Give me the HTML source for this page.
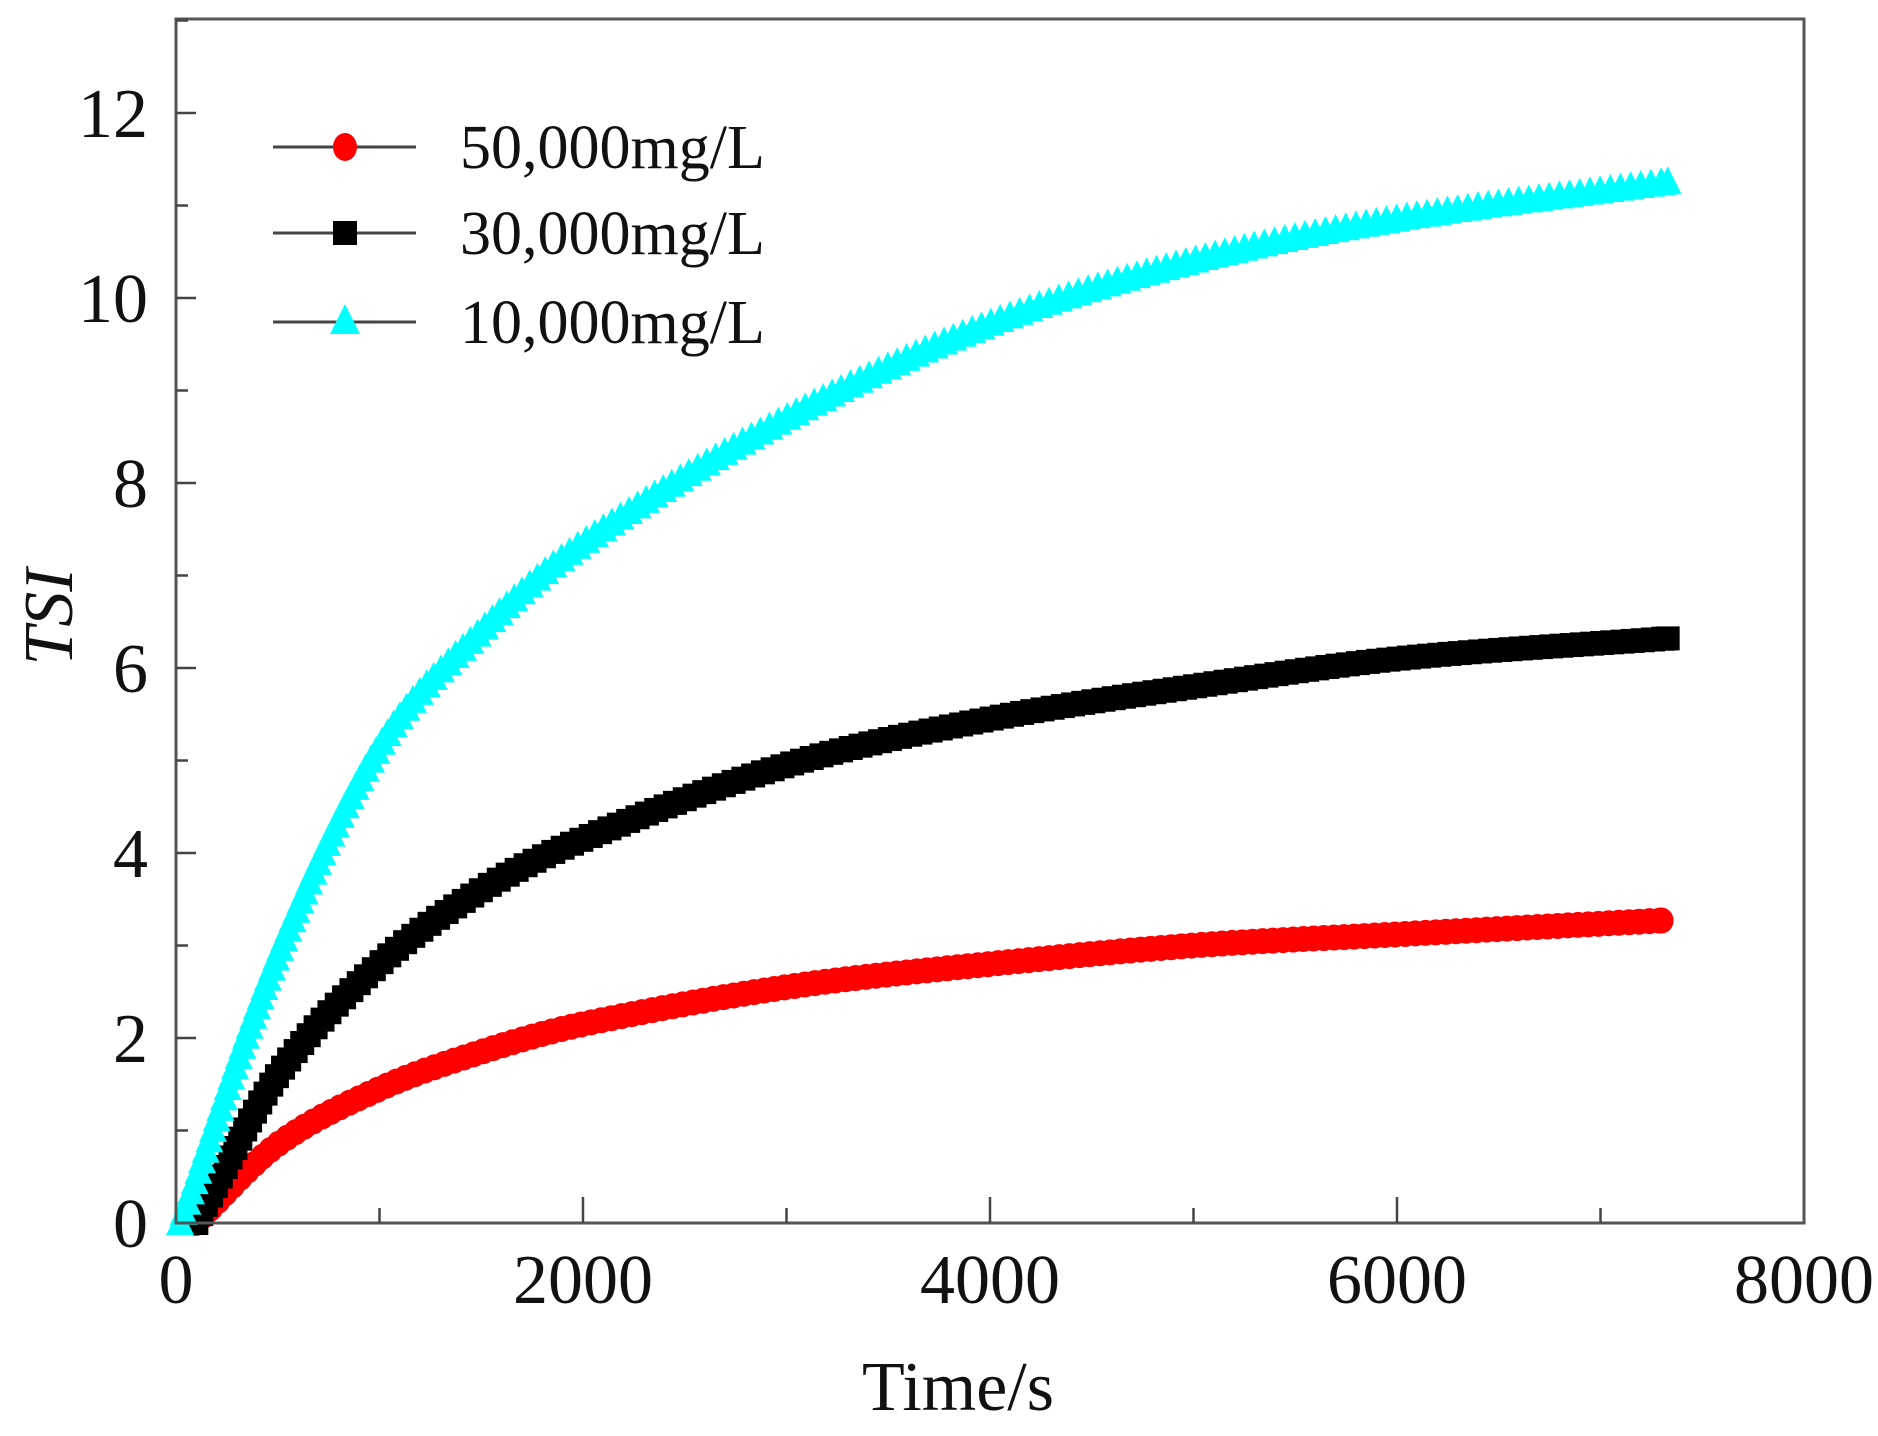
<!DOCTYPE html>
<html><head><meta charset="utf-8"><style>
html,body{margin:0;padding:0;background:#fff}
svg text{font-family:"Liberation Serif",serif;fill:#111}
</style></head><body>
<svg id="s" width="1878" height="1431" viewBox="0 0 1878 1431" xmlns="http://www.w3.org/2000/svg">
<rect x="0" y="0" width="1878" height="1431" fill="#fff"/>
<g id="data"></g>
<rect x="176" y="19" width="1628" height="1204" fill="none" stroke="#555" stroke-width="3"/>
<g id="ticks" stroke="#444" stroke-width="2.5"></g>
<g font-size="70">
<text x="148" y="137" text-anchor="end">12</text>
<text x="148" y="322" text-anchor="end">10</text>
<text x="148" y="507" text-anchor="end">8</text>
<text x="148" y="692" text-anchor="end">6</text>
<text x="148" y="877" text-anchor="end">4</text>
<text x="148" y="1062" text-anchor="end">2</text>
<text x="148" y="1247" text-anchor="end">0</text>
<text x="176" y="1303" text-anchor="middle">0</text>
<text x="583" y="1303" text-anchor="middle">2000</text>
<text x="990" y="1303" text-anchor="middle">4000</text>
<text x="1397" y="1303" text-anchor="middle">6000</text>
<text x="1804" y="1303" text-anchor="middle">8000</text>
<text x="958" y="1410" text-anchor="middle">Time/s</text>
<text transform="translate(72,617) rotate(-90)" text-anchor="middle" font-style="italic">TSI</text>
</g>
<g stroke="#444" stroke-width="3">
<line x1="273" y1="147" x2="416" y2="147"/>
<line x1="273" y1="233" x2="416" y2="233"/>
<line x1="273" y1="322" x2="416" y2="322"/>
</g>
<ellipse cx="345" cy="147" rx="12" ry="14" fill="#f00"/>
<rect x="333" y="221" width="24" height="24" fill="#000"/>
<polygon points="345,304 330,334 360,334" fill="#00ffff"/>
<g font-size="62">
<text x="460" y="168">50,000mg/L</text>
<text x="460" y="254">30,000mg/L</text>
<text x="460" y="343">10,000mg/L</text>
</g>
</svg>
<script>
var NS="http://www.w3.org/2000/svg";
function X(t){return 176+t*0.2035;}
function Y(v){return 1223-v*92.5;}
var tk=document.getElementById("ticks");
function ln(x1,y1,x2,y2){var l=document.createElementNS(NS,"line");l.setAttribute("x1",x1);l.setAttribute("y1",y1);l.setAttribute("x2",x2);l.setAttribute("y2",y2);tk.appendChild(l);}
for(var v=1;v<=13;v++){var y=Y(v);ln(176,y,176+(v%2==0?20:12),y);}
for(var t=1000;t<8000;t+=1000){var x=X(t);ln(x,1223,x,1223-(t%2000==0?26:15));}
function interp(p,t){
  for(var i=0;i<p.length-1;i++){if(t<=p[i+1][0]){
    var p0=p[Math.max(i-1,0)],p1=p[i],p2=p[i+1],p3=p[Math.min(i+2,p.length-1)];
    var u=(t-p1[0])/(p2[0]-p1[0]);
    var m1=(p2[1]-p0[1])/(p2[0]-p0[0])*(p2[0]-p1[0]);
    var m2=(p3[1]-p1[1])/(p3[0]-p1[0])*(p2[0]-p1[0]);
    var h00=2*u*u*u-3*u*u+1,h10=u*u*u-2*u*u+u,h01=-2*u*u*u+3*u*u,h11=u*u*u-u*u;
    return h00*p1[1]+h10*m1+h01*p2[1]+h11*m2;}}
  return p[p.length-1][1];}
var cyan=[[20,0],[500,2.9],[1000,5.15],[1500,6.4],[2000,7.35],[3000,8.7],[4000,9.72],[5000,10.4],[6000,10.85],[7330,11.25]];
var blk=[[100,0],[500,1.6],[1000,2.8],[1500,3.6],[2000,4.15],[3000,4.95],[4000,5.45],[5000,5.8],[6000,6.1],[7330,6.32]];
var red=[[100,0],[500,0.85],[1000,1.45],[1500,1.85],[2000,2.15],[3000,2.55],[4000,2.8],[5000,3.0],[6000,3.12],[7300,3.27]];
var g=document.getElementById("data");
function mk(type,x,y,col){var e;
    if(type=="c"){e=document.createElementNS(NS,"ellipse");e.setAttribute("cx",x);e.setAttribute("cy",y);e.setAttribute("rx",12);e.setAttribute("ry",13);}
    else if(type=="s"){e=document.createElementNS(NS,"rect");e.setAttribute("x",x-12);e.setAttribute("y",y-12);e.setAttribute("width",24);e.setAttribute("height",24);}
    else{e=document.createElementNS(NS,"polygon");e.setAttribute("points",x+","+(y-16)+" "+(x-14)+","+(y+12)+" "+(x+14)+","+(y+12));}
    e.setAttribute("fill",col);g.appendChild(e);}
function draw(p,type,col){
  var t0=p[0][0],t1=p[p.length-1][0];
  var px=X(t0),py=Y(0),acc=0;mk(type,px,py,col);
  for(var t=t0;t<=t1;t+=2){
    var x=X(t),y=Y(Math.max(0,interp(p,t)));
    acc+=Math.hypot(x-px,y-py);px=x;py=y;
    if(acc>=10){mk(type,x,y,col);acc=0;}
  }
  mk(type,X(t1),Y(interp(p,t1)),col);
}
draw(red,"c","#ff0000");
draw(blk,"s","#000000");
draw(cyan,"t","#00ffff");
</script>
</body></html>
